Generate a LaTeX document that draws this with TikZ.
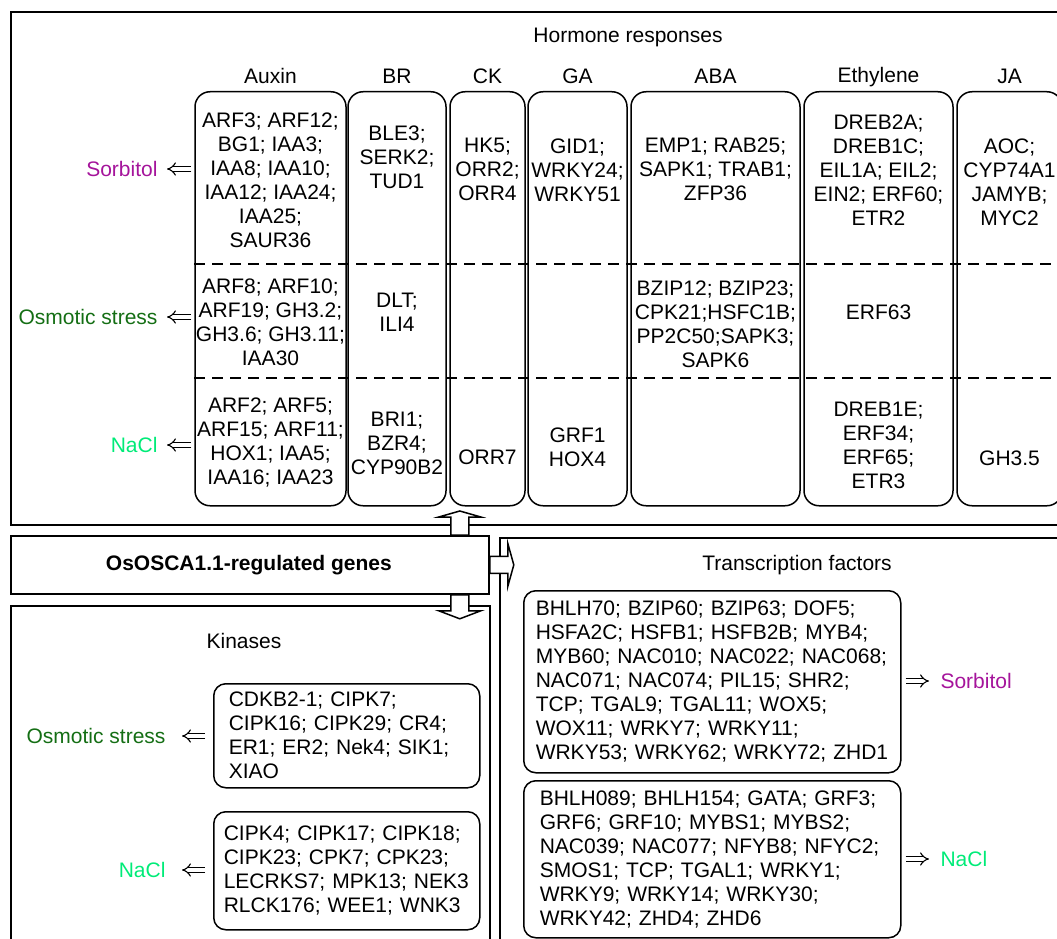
\documentclass[tikz,border=0pt]{standalone}
\usepackage{fontspec}
\setmainfont{Liberation Sans}
\usepackage{xcolor}
\usepackage{tikz}
\usetikzlibrary{arrows.meta}
\definecolor{sorbcol}{RGB}{165,20,155}
\definecolor{osmcol}{RGB}{20,110,20}
\definecolor{naclcol}{RGB}{0,235,120}

\begin{document}
\begin{tikzpicture}[x=1pt, y=-1pt,
  font=\fontsize{21}{24}\selectfont,
  outerbox/.style={draw, line width=1.8pt, inner sep=0pt, anchor=north west},
  colbox/.style={draw, line width=1.5pt, rounded corners=15pt, inner sep=0pt, anchor=north, minimum height=414pt},
  listbox/.style={draw, line width=1.5pt, rounded corners=12pt, align=left, inner ysep=0pt, anchor=north west},
  gtext/.style={align=center, inner sep=0pt},
  dblarr/.style={double, double distance=3.5pt, line width=1.1pt, -{Implies}},
  blockarr/.style={draw, fill=white, line width=1.5pt, line join=miter},
  rowdash/.style={line width=1.8pt, dash pattern=on 11pt off 7pt}]
  \useasboundingbox (0,0) rectangle (1057,939);
  \clip (0,0) rectangle (1057,939);

  % Hormone responses box
  \node[outerbox, minimum width=1080pt, minimum height=513pt] (hormone) at (10,11) {};
  \node[anchor=base] (hormlab) at (628,43) {Hormone responses};
  \node[colbox, minimum width=151pt] (auxin) at (270.5,91) {};
  \node[colbox, minimum width=98pt] (br) at (397,91) {};
  \node[colbox, minimum width=75pt] (ck) at (487.5,91) {};
  \node[colbox, minimum width=99pt] (ga) at (577.5,91) {};
  \node[colbox, minimum width=169pt] (aba) at (715.5,91) {};
  \node[colbox, minimum width=149pt] (eth) at (878.5,91) {};
  \node[colbox, minimum width=105pt] (ja) at (1009.5,91) {};
  \node[anchor=base] (lauxin) at ([yshift=7pt]auxin.north) {Auxin};
  \node[anchor=base] (lbr) at ([yshift=7pt]br.north) {BR};
  \node[anchor=base] (lck) at ([yshift=7pt]ck.north) {CK};
  \node[anchor=base] (lga) at ([yshift=7pt]ga.north) {GA};
  \node[anchor=base] (laba) at ([yshift=7pt]aba.north) {ABA};
  \node[anchor=base] (leth) at ([yshift=8pt]eth.north) {Ethylene};
  \node[anchor=base] (lja) at ([yshift=7pt]ja.north) {JA};
  \draw[rowdash] ([yshift=-173pt]auxin.north west) -- ([yshift=-173pt]ja.north east);
  \draw[rowdash] ([yshift=-287pt]auxin.north west) -- ([yshift=-287pt]ja.north east);

  % genes per column and stress
  \node[gtext] (aux1) at (270.5,180) {ARF3; ARF12;\\BG1; IAA3;\\IAA8; IAA10;\\IAA12; IAA24;\\IAA25;\\SAUR36};
  \node[gtext] (aux2) at (270.5,322) {ARF8; ARF10;\\ARF19; GH3.2;\\GH3.6; GH3.11;\\IAA30};
  \node[gtext] (aux3) at (270.5,443) {ARF2; ARF5;\\ARF15; ARF11;\\HOX1; IAA5;\\IAA16; IAA23};
  \node[gtext] (br1) at (397,157) {BLE3;\\SERK2;\\TUD1};
  \node[gtext] (br2) at (397,312) {DLT;\\ILI4};
  \node[gtext] (br3) at (397,443) {BRI1;\\BZR4;\\CYP90B2};
  \node[gtext] (ck1) at (487.5,169) {HK5;\\ORR2;\\ORR4};
  \node[gtext] (ck3) at (487.5,457) {ORR7};
  \node[gtext] (ga1) at (577.5,170) {GID1;\\WRKY24;\\WRKY51};
  \node[gtext] (ga3) at (577.5,447) {GRF1\\HOX4};
  \node[gtext] (aba1) at (715.5,169) {EMP1; RAB25;\\SAPK1; TRAB1;\\ZFP36};
  \node[gtext] (aba2) at (715.5,324) {BZIP12; BZIP23;\\CPK21;HSFC1B;\\PP2C50;SAPK3;\\SAPK6};
  \node[gtext] (eth1) at (878.5,170) {DREB2A;\\DREB1C;\\EIL1A; EIL2;\\EIN2; ERF60;\\ETR2};
  \node[gtext] (eth2) at (878.5,312) {ERF63};
  \node[gtext] (eth3) at (878.5,445) {DREB1E;\\ERF34;\\ERF65;\\ETR3};
  \node[gtext] (ja1) at (1009.5,182) {AOC;\\CYP74A1\\JAMYB;\\MYC2};
  \node[gtext] (ja3) at (1009.5,458) {GH3.5};

  \node[anchor=east, text=sorbcol] (sorbhr) at (161,169) {Sorbitol};
  \node[anchor=east, text=osmcol] (osmhr) at (161,317) {Osmotic stress};
  \node[anchor=east, text=naclcol] (naclhr) at (161,445) {NaCl};
  \draw[dblarr, shorten <=3pt, shorten >=6pt] (auxin.west |- sorbhr.east) -- (sorbhr.east);
  \draw[dblarr, shorten <=3pt, shorten >=6pt] (auxin.west |- osmhr.east) -- (osmhr.east);
  \draw[dblarr, shorten <=3pt, shorten >=6pt] (auxin.west |- naclhr.east) -- (naclhr.east);

  % OsOSCA1.1 box
  \node[outerbox, minimum width=478pt, minimum height=58pt] (genes) at (10,535) {};
  \node (geneslab) at ([xshift=-1pt]genes.center) {\bfseries OsOSCA1.1-regulated genes};

  % Kinases box
  \node[outerbox, minimum width=479pt, minimum height=400pt] (kinase) at (10,605) {};
  \node[anchor=base] (kinlab) at (244,648) {Kinases};
  \node[listbox, inner xsep=15pt, text width=236pt, minimum height=104pt] (kinosm) at (213,683)
    {CDKB2-1; CIPK7;\\CIPK16; CIPK29; CR4;\\ER1; ER2; Nek4; SIK1;\\XIAO};
  \node[listbox, inner xsep=10pt, text width=246pt, minimum height=118pt] (kinnacl) at (213,811)
    {CIPK4; CIPK17; CIPK18;\\CIPK23; CPK7; CPK23;\\LECRKS7; MPK13; NEK3\\RLCK176; WEE1; WNK3};
  \node[anchor=east, text=osmcol] (osmkin) at (169,736) {Osmotic stress};
  \node[anchor=east, text=naclcol] (naclkin) at (169,870) {NaCl};
  \draw[dblarr, shorten <=8pt, shorten >=13pt] (kinosm.west |- osmkin.east) -- (osmkin.east);
  \draw[dblarr, shorten <=8pt, shorten >=13pt] (kinnacl.west |- naclkin.east) -- (naclkin.east);

  % Transcription factors box
  \node[outerbox, minimum width=600pt, minimum height=450pt] (tfac) at (499,537) {};
  \node[anchor=base] (tflab) at (797,570) {Transcription factors};
  \node[listbox, inner xsep=12pt, text width=353pt, minimum height=182pt] (tfsorb) at (523,590)
    {BHLH70; BZIP60; BZIP63; DOF5;\\HSFA2C; HSFB1; HSFB2B; MYB4;\\MYB60; NAC010; NAC022; NAC068;\\NAC071; NAC074; PIL15; SHR2;\\TCP; TGAL9; TGAL11; WOX5;\\WOX11; WRKY7; WRKY11;\\WRKY53; WRKY62; WRKY72; ZHD1};
  \node[listbox, inner xsep=16pt, text width=345pt, minimum height=157pt] (tfnacl) at (523,780)
    {BHLH089; BHLH154; GATA; GRF3;\\GRF6; GRF10; MYBS1; MYBS2;\\NAC039; NAC077; NFYB8; NFYC2;\\SMOS1; TCP; TGAL1; WRKY1;\\WRKY9; WRKY14; WRKY30;\\WRKY42; ZHD4; ZHD6};
  \node[anchor=west, text=sorbcol] (sorbtf) at (937,681) {Sorbitol};
  \node[anchor=west, text=naclcol] (nacltf) at (937,859) {NaCl};
  \draw[dblarr, shorten <=4pt, shorten >=8pt] (tfsorb.east |- sorbtf.west) -- (sorbtf.west);
  \draw[dblarr, shorten <=4pt, shorten >=8pt] (tfnacl.east |- nacltf.west) -- (nacltf.west);

  % block arrows out of the genes box
  \draw[blockarr] ([xshift=-39pt]genes.north east) -- ++(0,-18) -- ++(-12,0) -- ++(21,-6)
    -- ++(21,6) -- ++(-12,0) -- ++(0,18) -- cycle;
  \draw[blockarr] ([xshift=-39pt]genes.south east) -- ++(0,16) -- ++(-12,0) -- ++(21,8)
    -- ++(21,-8) -- ++(-12,0) -- ++(0,-16) -- cycle;
  \draw[blockarr] ([yshift=8.5pt]genes.east) -- ++(18,0) -- ++(0,-13) -- ++(6,21.5)
    -- ++(-6,21.5) -- ++(0,-13) -- ++(-18,0) -- cycle;
\end{tikzpicture}
\end{document}
